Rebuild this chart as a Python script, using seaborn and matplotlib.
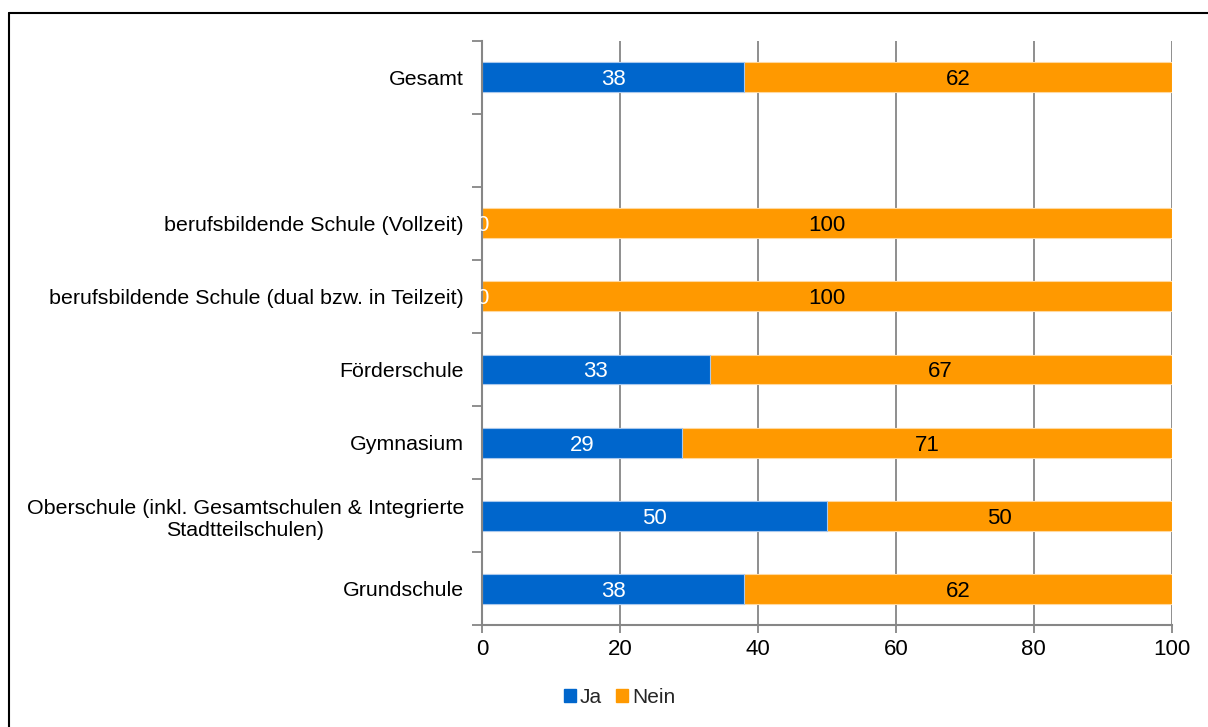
import matplotlib
matplotlib.use('Agg')
import matplotlib.pyplot as plt
import seaborn as sns
import pandas as pd
import numpy as np
from matplotlib.patches import Patch
from matplotlib.lines import Line2D

# data (top to bottom)
categories = ['Gesamt', ' ',
              'berufsbildende Schule (Vollzeit)',
              'berufsbildende Schule (dual bzw. in Teilzeit)',
              'Förderschule', 'Gymnasium',
              'Oberschule (inkl. Gesamtschulen & Integrierte\nStadtteilschulen)',
              'Grundschule']
ja = [38, np.nan, 0, 0, 33, 29, 50, 38]
nein = [62, np.nan, 100, 100, 67, 71, 50, 62]

blue = '#0066CC'
orange = '#FF9900'
grey = '#868686'
fs = 16

sns.set_theme(style='white')
plt.rcParams['font.family'] = ['Liberation Sans', 'DejaVu Sans']

df = pd.DataFrame({'Schulform': categories, 'Ja': ja, 'Nein': nein})
df['Summe'] = df['Ja'] + df['Nein']

fig, ax = plt.subplots(figsize=(12.08, 7.27), dpi=100)
fig.subplots_adjust(left=0.399, right=0.970, top=0.944, bottom=0.140)

# stacked: total (orange) first, Ja (blue) on top
sns.barplot(data=df, y='Schulform', x='Summe', order=categories, color=orange, saturation=1,
            width=0.41, edgecolor='#ffd9a0', linewidth=0.8, errorbar=None, ax=ax)
sns.barplot(data=df, y='Schulform', x='Ja', order=categories, color=blue, saturation=1,
            width=0.41, edgecolor='#a8c8ee', linewidth=0.8, errorbar=None, ax=ax)

# value labels
for i in range(len(categories)):
    if np.isnan(ja[i]):
        continue
    if ja[i] > 0:
        ax.text(ja[i] / 2, i, f'{ja[i]:.0f}', color='white', ha='center', va='center_baseline', fontsize=fs)
    else:
        ax.text(0, i, '0', color='white', ha='center', va='center_baseline', fontsize=fs)
    ax.text(ja[i] + nein[i] / 2, i, f'{nein[i]:.0f}', color='black', ha='center', va='center_baseline', fontsize=fs)

ax.set_xlim(0, 100)
ax.set_ylim(len(categories) - 0.5, -0.5)
ax.set_xticks(range(0, 101, 20))
ax.set_yticks(np.arange(-0.5, len(categories), 1), minor=True)
ax.set_xlabel('')
ax.set_ylabel('')

ax.grid(axis='x', color=grey, linewidth=1.3)
ax.set_axisbelow(True)
for s in ['top', 'right']:
    ax.spines[s].set_visible(False)
for s in ['left', 'bottom']:
    ax.spines[s].set_color(grey)
    ax.spines[s].set_linewidth(1.5)

ax.tick_params(axis='y', which='major', length=0, pad=13, labelsize=15.4, labelcolor='black')
ax.tick_params(axis='y', which='minor', left=True, length=7, width=1.3, color=grey)
ax.tick_params(axis='x', which='major', bottom=True, length=6, width=1.3, color=grey,
               labelsize=fs, labelcolor='black', pad=4)
for lab in ax.get_yticklabels():
    lab.set_multialignment('center')

handles = [Patch(color=blue, label='Ja'), Patch(color=orange, label='Nein')]
fig.legend(handles=handles, loc='center', bbox_to_anchor=(0.513, 0.041), ncol=2,
           frameon=False, handlelength=0.55, handleheight=0.55, handletextpad=0.2,
           columnspacing=0.7, fontsize=15)

# chart frame (left and top edges visible)
fig.add_artist(Line2D([8.5 / 1208, 8.5 / 1208], [0, 1 - 12.5 / 727], transform=fig.transFigure,
                      color='black', linewidth=1.5))
fig.add_artist(Line2D([8.5 / 1208, 1], [1 - 12.5 / 727, 1 - 12.5 / 727], transform=fig.transFigure,
                      color='black', linewidth=1.5))

plt.savefig('out.png', dpi=100)
